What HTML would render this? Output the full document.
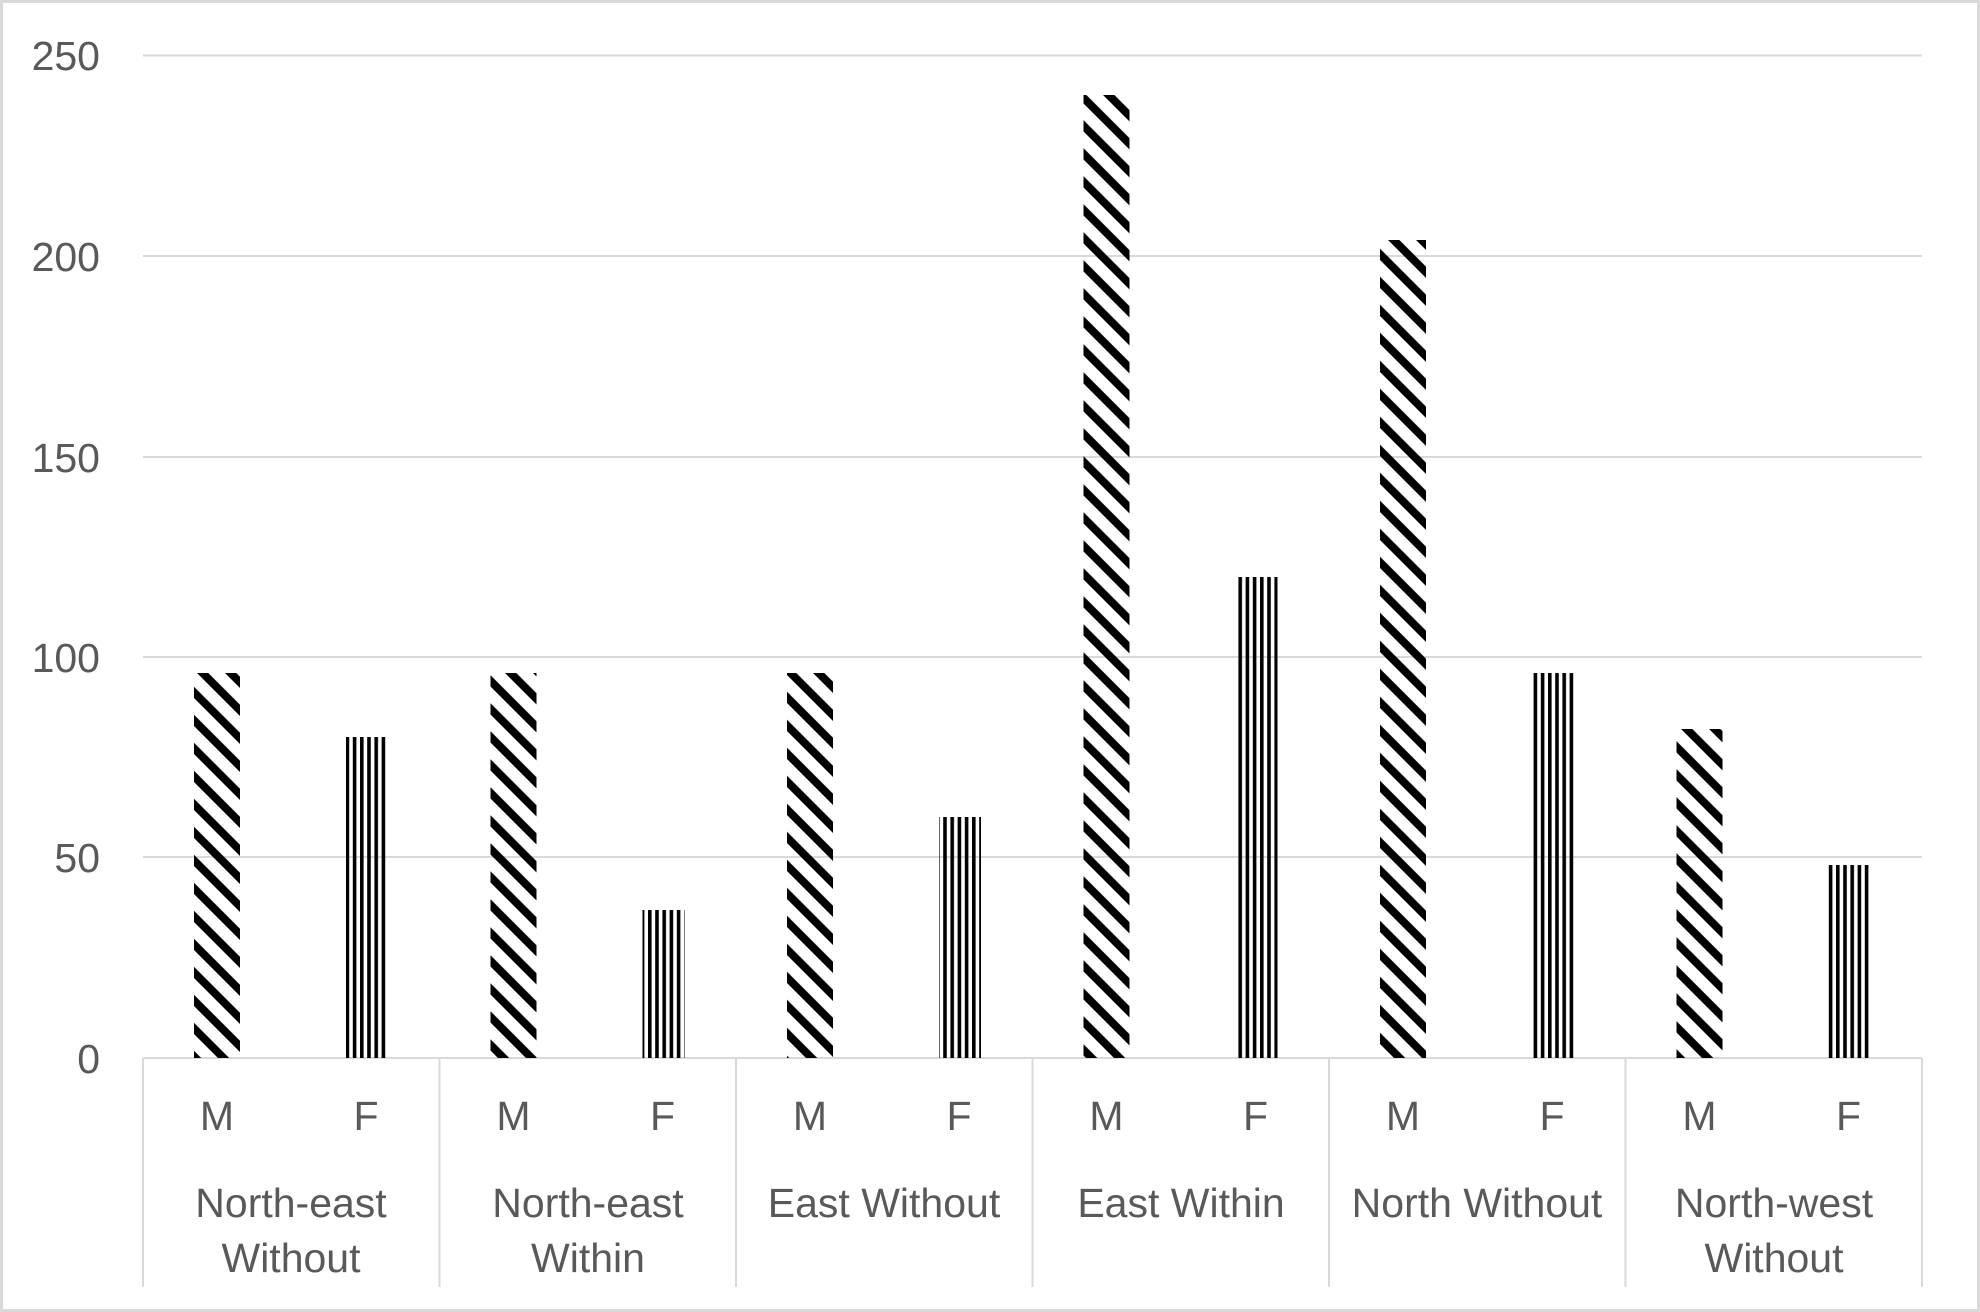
<!DOCTYPE html>
<html><head><meta charset="utf-8"><style>
html,body{margin:0;padding:0;background:#fff}
svg{display:block}
text{font-family:"Liberation Sans",sans-serif;fill:#595959;font-size:41px}
</style></head><body>
<svg width="1980" height="1312" viewBox="0 0 1980 1312" xmlns="http://www.w3.org/2000/svg">
<defs>
<pattern id="diag" patternUnits="userSpaceOnUse" width="19.8" height="19.8" patternTransform="rotate(-45)">
<rect x="0" y="0" width="8" height="19.8" fill="#000"/>
</pattern>
<pattern id="vert" patternUnits="userSpaceOnUse" width="7.2" height="10">
<rect x="0" y="0" width="3.6" height="10" fill="#000"/>
</pattern>
</defs>
<rect x="1.5" y="1.5" width="1977" height="1309" fill="#fff" stroke="#d9d9d9" stroke-width="3"/>
<g stroke="#d9d9d9" stroke-width="2">
<line x1="143" y1="55.5" x2="1922" y2="55.5"/>
<line x1="143" y1="256" x2="1922" y2="256"/>
<line x1="143" y1="457" x2="1922" y2="457"/>
<line x1="143" y1="657" x2="1922" y2="657"/>
<line x1="143" y1="857" x2="1922" y2="857"/>
<line x1="143" y1="1058" x2="1922" y2="1058"/>
<line x1="143" y1="1058" x2="143" y2="1287"/>
<line x1="439.5" y1="1058" x2="439.5" y2="1287"/>
<line x1="736" y1="1058" x2="736" y2="1287"/>
<line x1="1032.5" y1="1058" x2="1032.5" y2="1287"/>
<line x1="1329" y1="1058" x2="1329" y2="1287"/>
<line x1="1625.5" y1="1058" x2="1625.5" y2="1287"/>
<line x1="1922" y1="1058" x2="1922" y2="1287"/>
</g>
<g text-anchor="end">
<text x="100" y="70">250</text>
<text x="100" y="271">200</text>
<text x="100" y="472">150</text>
<text x="100" y="672">100</text>
<text x="100" y="872">50</text>
<text x="100" y="1073">0</text>
</g>
<g>
<rect x="194" y="673" width="46" height="385" fill="url(#diag)"/>
<rect x="346" y="737" width="42" height="321" fill="url(#vert)"/>
<rect x="490.5" y="673" width="46" height="385" fill="url(#diag)"/>
<rect x="642.5" y="910" width="42" height="148" fill="url(#vert)"/>
<rect x="787" y="673" width="46" height="385" fill="url(#diag)"/>
<rect x="939" y="817" width="42" height="241" fill="url(#vert)"/>
<rect x="1083.5" y="95" width="46" height="963" fill="url(#diag)"/>
<rect x="1235.5" y="577" width="42" height="481" fill="url(#vert)"/>
<rect x="1380" y="240" width="46" height="818" fill="url(#diag)"/>
<rect x="1532" y="673" width="42" height="385" fill="url(#vert)"/>
<rect x="1676.5" y="729" width="46" height="329" fill="url(#diag)"/>
<rect x="1828.5" y="865" width="42" height="193" fill="url(#vert)"/>
</g>
<g text-anchor="middle">
<text x="217" y="1130">M</text><text x="366" y="1130">F</text>
<text x="513.5" y="1130">M</text><text x="662.5" y="1130">F</text>
<text x="810" y="1130">M</text><text x="959" y="1130">F</text>
<text x="1106.5" y="1130">M</text><text x="1255.5" y="1130">F</text>
<text x="1403" y="1130">M</text><text x="1552" y="1130">F</text>
<text x="1699.5" y="1130">M</text><text x="1848.5" y="1130">F</text>
<text x="291" y="1217">North-east</text><text x="291" y="1272">Without</text>
<text x="588" y="1217">North-east</text><text x="588" y="1272">Within</text>
<text x="884" y="1217">East Without</text>
<text x="1181" y="1217">East Within</text>
<text x="1477" y="1217">North Without</text>
<text x="1774" y="1217">North-west</text><text x="1774" y="1272">Without</text>
</g>
</svg>
</body></html>
